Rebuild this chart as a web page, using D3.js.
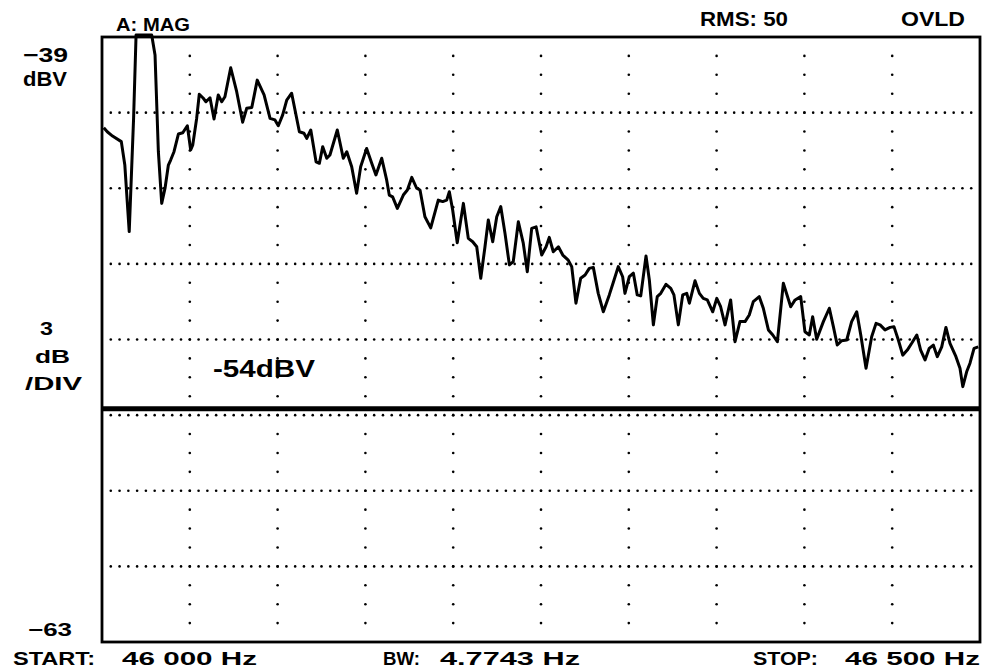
<!DOCTYPE html>
<html>
<head>
<meta charset="utf-8">
<script src="https://cdn.jsdelivr.net/npm/d3@7"></script>
<style>
  body { margin: 0; background: #fff; }
  svg { display: block; }
  .lbl { font-family: "Liberation Sans", Arial, sans-serif; font-weight: bold; fill: #000; }
</style>
</head>
<body>
<svg id="chart" width="985" height="671"></svg>
<script>
// Spectrum trace (Hz, dBV)
const FREQ_HZ = [
  46001, 46003, 46006, 46011, 46013, 46015.5, 46018, 46019.4, 46028.3, 46030.2,
  46032.1, 46034, 46035.9, 46037.8, 46039.1, 46041, 46043.5, 46046, 46048.6, 46050.5,
  46051.7, 46053.9, 46055.4, 46057.7, 46059.2, 46061.5, 46063.8, 46066.2, 46068.2, 46070,
  46073.3, 46076.7, 46080.1, 46082.4, 46085.3, 46088.4, 46092.3, 46095.7, 46098.5, 46100.4,
  46102.9, 46105.2, 46108, 46112.4, 46115, 46116.6, 46118.9, 46121.9, 46123.8, 46125.7,
  46128, 46129.8, 46134, 46137.4, 46139.4, 46142.2, 46145, 46147.3, 46150.7, 46153.6,
  46156, 46159.3, 46162.1, 46163.6, 46165.5, 46168.2, 46171.6, 46173.9, 46176.4, 46179.2,
  46181.1, 46183.9, 46187.2, 46191.5, 46194, 46196.3, 46197.8, 46199.7, 46202.3, 46205.8,
  46208.6, 46211.1, 46213.4, 46215.7, 46218.1, 46220, 46222.5, 46224.8, 46227.1, 46229.5,
  46232, 46234.2, 46237.1, 46239.9, 46242.2, 46244.7, 46247.2, 46250.4, 46252.9, 46254.7,
  46257, 46259.9, 46262.4, 46265.5, 46267.5, 46269.9, 46272.6, 46275.1, 46277.5, 46279.8,
  46282.6, 46285.5, 46288.9, 46291.6, 46294, 46296.5, 46297.8, 46300.3, 46302.6, 46304.8,
  46306.8, 46309.8, 46311.7, 46314, 46316.2, 46318.2, 46321.2, 46323.9, 46325.7, 46328.2,
  46330.7, 46333, 46334.5, 46337.7, 46340.2, 46342.4, 46344.7, 46347.8, 46350.1, 46352.3,
  46354.8, 46358, 46360.5, 46363.3, 46366.2, 46368.6, 46370.9, 46374.3, 46376.6, 46379.5,
  46382, 46384.6, 46388, 46392.2, 46394.7, 46397.9, 46400.3, 46402.8, 46404.7, 46407,
  46410.8, 46414.2, 46416.5, 46418.7, 46421.2, 46424.1, 46426.9, 46429.8, 46432.1, 46435.1,
  46438.3, 46440.8, 46443.1, 46445.9, 46448.8, 46451, 46453.5, 46456, 46458.6, 46461.1,
  46464, 46466.2, 46468.7, 46471.1, 46473.4, 46475.7, 46478.2, 46480.6, 46482.9, 46486.3,
  46488.6, 46490.2, 46492.4, 46494.3, 46496.6, 46499
];
const LEVEL_DBV = [
  -42.60, -42.76, -42.93, -43.15, -44.08, -46.72, -42.21, -38.92, -38.92, -39.71,
  -43.55, -45.60, -45.00, -44.08, -43.88, -43.55, -42.85, -42.80, -42.52, -43.48,
  -43.28, -42.23, -41.27, -41.43, -41.57, -41.41, -42.25, -41.30, -41.57, -41.37,
  -40.22, -41.17, -42.38, -41.83, -41.80, -40.71, -41.30, -42.23, -42.29, -42.52,
  -42.09, -41.50, -41.23, -42.76, -42.82, -43.02, -42.69, -43.95, -44.01, -43.35,
  -43.81, -43.68, -42.69, -43.81, -43.55, -44.15, -45.20, -44.15, -43.42, -44.01,
  -44.47, -43.81, -44.67, -45.27, -45.34, -45.80, -45.27, -45.07, -44.57, -45.00,
  -45.07, -46.13, -46.57, -45.47, -45.53, -45.47, -45.14, -45.86, -47.16, -45.60,
  -46.99, -47.12, -47.32, -48.57, -47.32, -46.26, -47.12, -46.13, -45.73, -46.79,
  -48.04, -47.91, -46.33, -47.18, -48.31, -46.59, -46.53, -47.65, -47.32, -46.95,
  -47.52, -47.32, -47.65, -47.85, -48.11, -49.56, -48.57, -48.44, -48.18, -48.14,
  -49.17, -49.90, -49.23, -48.64, -48.11, -48.51, -49.17, -48.51, -48.37, -49.23,
  -49.27, -47.69, -48.64, -50.42, -49.30, -49.17, -48.81, -48.97, -49.23, -50.42,
  -49.23, -49.17, -49.56, -48.67, -49.17, -49.37, -49.43, -49.90, -49.37, -49.70,
  -50.42, -49.43, -51.09, -50.29, -50.29, -50.03, -49.50, -49.30, -49.76, -50.62,
  -50.82, -51.09, -48.77, -49.70, -49.43, -49.30, -50.69, -50.82, -50.10, -50.99,
  -50.29, -49.76, -50.49, -51.22, -51.05, -51.02, -50.29, -49.90, -50.82, -52.14,
  -50.89, -50.36, -50.42, -50.62, -50.52, -50.49, -51.02, -51.62, -51.42, -51.15,
  -50.82, -51.42, -51.81, -51.35, -51.22, -51.68, -51.29, -50.52, -51.15, -51.68,
  -52.14, -52.87, -52.28, -51.94, -51.35, -51.29
];

// Span and graticule
const SPAN_HZ = [46000, 46500];
const RANGE_DBV = [-39, -63];
const X_GRID_HZ = [46050, 46100, 46150, 46200, 46250, 46300, 46350, 46400, 46450];
const Y_GRID_DBV = [-42, -45, -48, -51, -54, -57, -60];
const REF_DBV = -53.75;   // heavy marker line labelled -54dBV

const svg = d3.select("#chart");

const x = d3.scaleLinear().domain(SPAN_HZ).range([102, 980]);
const y = d3.scaleLinear().domain(RANGE_DBV).range([37, 642]);

// ── Dotted graticule ─────────────────────────────
const dots = [];
Y_GRID_DBV.forEach(db => {
  d3.range(SPAN_HZ[0] + 5, SPAN_HZ[1], 5).forEach(f => dots.push([f, db]));
});
X_GRID_HZ.forEach(f => {
  d3.range(1, 32).forEach(k => dots.push([f, RANGE_DBV[0] - k * 0.75]));
});

svg.append("g")
  .selectAll("circle")
  .data(dots)
  .join("circle")
  .attr("cx", d => x(d[0]))
  .attr("cy", d => y(d[1]))
  .attr("r", 1.3)
  .attr("fill", "#000");

// ── Reference level line ─────────────────────────
svg.append("line")
  .attr("x1", x(SPAN_HZ[0])).attr("x2", x(SPAN_HZ[1]))
  .attr("y1", y(REF_DBV)).attr("y2", y(REF_DBV))
  .attr("stroke", "#000")
  .attr("stroke-width", 5);

// ── Trace ────────────────────────────────────────
const trace = FREQ_HZ.map((f, i) => [f, LEVEL_DBV[i]]);
svg.append("path")
  .datum(trace)
  .attr("fill", "none")
  .attr("stroke", "#000")
  .attr("stroke-width", 3)
  .attr("stroke-linejoin", "round")
  .attr("d", d3.line().x(d => x(d[0])).y(d => y(d[1])));

// ── Frame ────────────────────────────────────────
svg.append("rect")
  .attr("x", x(SPAN_HZ[0]))
  .attr("y", y(RANGE_DBV[0]))
  .attr("width", x(SPAN_HZ[1]) - x(SPAN_HZ[0]))
  .attr("height", y(RANGE_DBV[1]) - y(RANGE_DBV[0]))
  .attr("fill", "none")
  .attr("stroke", "#000")
  .attr("stroke-width", 2.8);

// ── Annotation text (x, baseline, width, size) ───
const labels = [
  ["A: MAG", 116, 31, 74, 19],
  ["RMS: 50", 700, 26, 88, 20],
  ["OVLD", 901, 26, 64, 20],
  ["\u221239", 23, 62, 45, 20],
  ["dBV", 23, 86, 44, 20],
  ["3", 40, 335, 13, 19],
  ["dB", 35, 363, 35, 19],
  ["/DIV", 25, 390, 57, 19],
  ["\u221263", 28, 636, 44, 18],
  ["START:", 13, 665, 82, 18],
  ["46 000 Hz", 122, 665, 135, 18],
  ["BW:", 383, 665, 37, 18],
  ["4.7743 Hz", 440, 665, 140, 18],
  ["STOP:", 753, 665, 65, 18],
  ["46 500 Hz", 845, 665, 135, 18],
  ["-54dBV", 213, 377, 102, 24]
];

svg.append("g")
  .selectAll("text")
  .data(labels)
  .join("text")
  .attr("class", "lbl")
  .attr("x", d => d[1])
  .attr("y", d => d[2])
  .attr("textLength", d => d[3])
  .attr("lengthAdjust", "spacingAndGlyphs")
  .attr("font-size", d => d[4])
  .text(d => d[0]);
</script>
</body>
</html>
